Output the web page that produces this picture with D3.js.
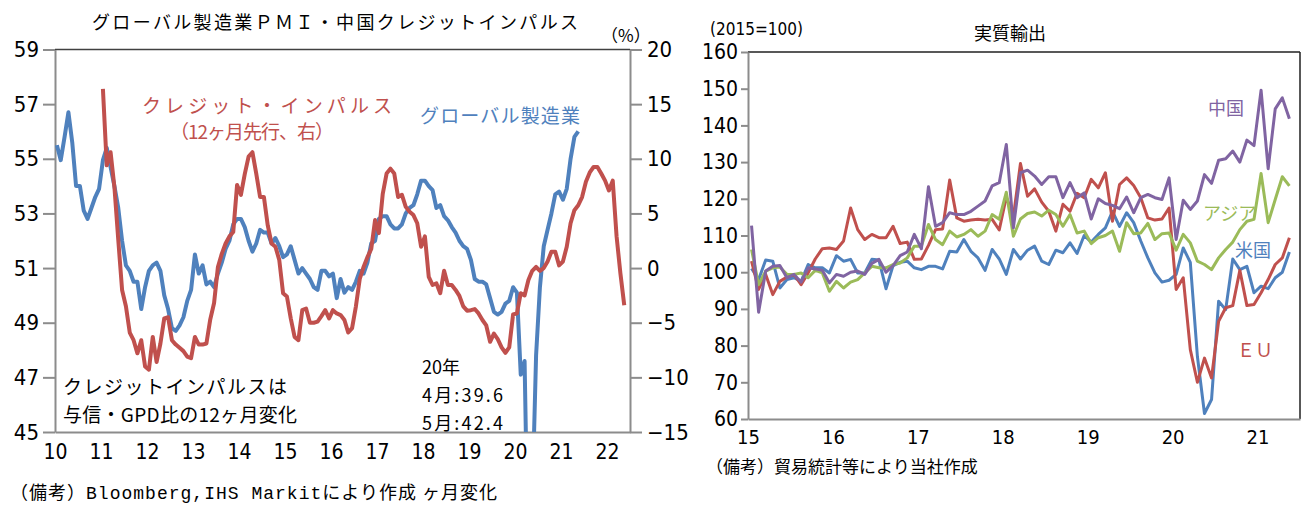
<!DOCTYPE html>
<html><head><meta charset="utf-8">
<script src="https://cdn.jsdelivr.net/npm/d3@7"></script>
<style>
body{margin:0;background:#fff;}
svg{display:block;}
</style></head><body>
<svg id="c" width="1314" height="510"></svg>
<script>
// ---------- Left chart data (monthly) ----------
const pmiStart = 2010; // Jan 2010
const pmiValues = [
55.5,54.95,55.8,56.7,55.6,54.0,54.0,53.1,52.8,53.2,
53.6,53.9,54.95,55.4,54.7,54.0,53.2,52.0,51.1,50.9,
50.5,50.5,49.5,50.3,50.9,51.1,51.2,50.9,50.0,49.5,
48.8,48.7,48.9,49.2,49.8,50.2,51.5,50.8,51.1,50.4,
50.5,50.3,50.8,51.2,51.7,52.0,52.6,52.8,52.8,52.5,
52.0,51.6,51.9,52.4,52.3,52.3,51.9,52.1,51.8,51.4,
51.5,51.8,51.3,50.8,51.0,50.8,50.6,50.3,50.2,50.9,
50.9,50.7,50.8,49.9,50.6,50.1,50.3,50.2,50.5,50.9,
50.8,51.2,51.9,52.0,52.8,52.9,52.9,52.6,52.45,52.45,
52.6,53.0,53.2,53.3,53.7,54.2,54.2,54.0,53.85,53.2,
53.3,52.9,52.75,52.5,52.3,52.0,51.8,51.7,51.3,50.6,
50.5,50.5,50.4,49.9,49.4,49.3,49.4,49.7,49.8,50.3,
50.1,47.1,47.6,39.6,42.4,47.8,50.3,51.8,52.4,53.0,
53.7,53.8,53.5,53.9,55.0,55.8,56.0];
const ciStart = 2011; // Jan 2011 (12 months lead)
const ciValues = [
16.4,9.4,10.6,7.4,2.6,-2.0,-3.5,-5.9,-6.6,-7.8,
-6.6,-9.0,-9.3,-6.3,-8.6,-6.9,-4.6,-4.5,-6.6,-7.0,
-7.3,-7.6,-8.1,-8.25,-6.3,-7.0,-7.0,-6.9,-4.7,-3.2,
0.1,1.3,2.25,2.9,3.3,7.6,6.7,8.6,10.2,10.6,
8.65,6.5,6.5,3.9,2.25,1.95,0.75,-2.3,-2.6,-4.6,
-6.3,-6.6,-3.85,-3.7,-5.0,-5.0,-4.9,-4.4,-3.85,-4.6,
-3.85,-4.15,-4.3,-4.75,-5.9,
-5.5,-3.5,-1.0,0.1,1.0,1.75,4.4,3.2,6.8,8.65,
9.1,8.65,6.5,6.7,5.6,5.15,4.85,4.1,1.95,2.9,
-0.8,-1.55,-1.4,-2.3,-0.25,-1.55,-1.55,-2.0,-2.55,-3.5,
-3.9,-3.85,-3.75,-4.15,-4.75,-5.25,-6.75,-6.0,-6.5,-7.25,
-7.75,-7.25,-4.25,-4.15,-2.3,-2.5,-1.1,-0.25,0.1,-0.25,
0,0.6,1.5,1.5,0.25,0.6,1.95,4.1,5.3,5.75,
6.5,7.9,8.75,9.25,9.25,8.65,8.0,7.1,8.0,2.9,
-0.5,-3.4];
const leftYearTicks = [2010,2011,2012,2013,2014,2015,2016,2017,2018,2019,2020,2021,2022];
const pmiTicks = [45,47,49,51,53,55,57,59];
const ciTicks = [-15,-10,-5,0,5,10,15,20];

// ---------- Right chart data (monthly, 2015=100) ----------
const expStart = 2015; // Jan 2015
const expUS = [
101,98,103.3,103,95.7,98,98.5,97.5,102.1,101.2,
101.2,99.8,104.5,103,103.5,99.8,99.8,103.5,103.3,95.5,
101.8,102.7,103,101.2,100.7,101.6,101.6,100.9,105.7,105.5,
108.9,105.7,103.9,100.5,106.2,103.6,99.4,106.2,103.6,106,
107.1,103,102.1,106,105.3,108,105.1,110,108.2,110.3,
112.1,116.6,112.5,116.2,113.5,108.5,103.9,99.8,97.3,97.8,
99.4,106.6,102.7,77.1,61.5,65.3,92.1,89.8,103.6,100.7,
101.6,94.4,96.2,95.5,98.5,100,105.5];
const expEU = [
103,95.3,99.4,93.9,97.5,98.7,99.4,96.6,99.8,103.6,
106.4,106.6,106.2,108.5,117.5,111.6,108.9,110.3,109.4,109.4,
112.5,107.8,108.2,103.5,103.6,107.3,111.6,111.8,125.1,114.8,
113.9,114.2,114.4,114.2,114.4,111.5,120.5,115.1,129.6,120.7,
122.7,119.1,116.6,111.2,118.5,116.6,121.5,120.3,125.3,123,
127.1,113.9,123.9,125.7,123.6,120.3,114.8,114.2,114.5,117.5,
95.3,98.5,78.9,70,76.6,71.2,86.6,90.3,90.9,100.5,
90.9,91.2,94.4,98,102.1,103.9,109.4];
const expAsia = [
106.2,96.6,100.3,101.2,101.4,99.4,99.4,99.8,98.5,100.5,
99.8,94.8,97.5,95.7,97.3,98,99.8,101.6,101.2,101.2,
102.1,102.5,103.9,107.1,107.1,113,108.9,107.5,111.2,109.6,
110.3,111.6,109.8,111.2,115.7,114.4,121.8,109.8,114.5,116,
116.4,115.3,116.9,115.7,112.5,115.7,110.7,111.2,107.8,109.4,
110,111.2,105.7,113.5,110.5,110.7,113.3,108.9,110.5,110.7,
106,110.3,108,103,102.1,100.7,103.9,106.2,108.2,111.6,
113.9,114.4,126.9,113.5,119.8,126,123.5];
const expChina = [
112.7,89.1,100.3,101.6,101.8,98.5,99.4,97.3,101.2,100.9,
100.5,97.1,99.4,98.9,100,100.3,99.4,102.4,103.5,100,
101.8,104.5,105.5,110.3,106.4,123.3,112.5,113.5,116.2,115.7,
115.7,116.6,118,119.4,123.5,124.4,134.8,112.1,127.1,127.8,
126.2,123.9,126,126,120.3,124.4,120.3,121.6,114.5,120,
118.7,118.2,117.3,120.5,116.2,120.3,121.2,120.3,119.8,125.7,
108.9,119.6,117.1,119.4,126.6,124.2,130.5,130.9,133,130,
136,134.5,149.6,128.2,144.5,147.5,141.8];
const expTicks = [60,70,80,90,100,110,120,130,140,150,160];
const expYearTicks = [2015,2016,2017,2018,2019,2020,2021];

// ---------- Styles ----------
const C_BLUE = "#4f81bd", C_RED = "#c0504d", C_GREEN = "#9bbb59", C_PURPLE = "#8064a2";
const F_NUM = "'Liberation Sans Narrow', 'DejaVu Sans Condensed', 'Liberation Sans', sans-serif";
const F_JP = "'Noto Sans CJK JP', 'Noto Sans', sans-serif";
const F_MONO = "'Liberation Mono', 'DejaVu Sans Mono', monospace";
const AX = "#8c8c8c";

const svg = d3.select("#c");
const monthX = (start, i) => start + (i + 0.5) / 12;

function styleAxis(g, size) {
  g.selectAll(".domain").attr("stroke", AX).attr("stroke-width", 2);
  g.selectAll(".tick line").attr("stroke", AX).attr("stroke-width", 2);
  g.selectAll(".tick text").attr("fill", "#000").style("font-family", F_NUM).style("font-size", size + "px");
}

// ================= LEFT CHART =================
const xL = d3.scaleLinear().domain([2010, 2022.5]).range([55, 630]);
const yL = d3.scaleLinear().domain([45, 59]).range([432, 49.5]);
const yR = d3.scaleLinear().domain([-15, 20]).range([432, 49.5]);

svg.append("defs").append("clipPath").attr("id", "clipL")
  .append("rect").attr("x", xL.range()[0]).attr("y", yL.range()[1])
  .attr("width", xL.range()[1] - xL.range()[0]).attr("height", yL.range()[0] - yL.range()[1]);

svg.append("line").attr("x1", xL.range()[0]).attr("x2", xL.range()[1])
  .attr("y1", yL(59)).attr("y2", yL(59)).attr("stroke", "#404040").attr("stroke-width", 1.5);

const gLA = svg.append("g").attr("transform", `translate(${xL.range()[0]},0)`)
  .call(d3.axisLeft(yL).tickValues(pmiTicks).tickSize(12).tickSizeOuter(0).tickPadding(4));
styleAxis(gLA, 22);
const gRA = svg.append("g").attr("transform", `translate(${xL.range()[1]},0)`)
  .call(d3.axisRight(yR).tickValues(ciTicks).tickSize(12).tickSizeOuter(0).tickPadding(5));
styleAxis(gRA, 22);
const gBA = svg.append("g").attr("transform", `translate(0,${yL.range()[0]})`)
  .call(d3.axisBottom(xL).tickValues(leftYearTicks).tickSize(0).tickSizeOuter(0).tickPadding(12)
    .tickFormat(d => String(d).slice(2)));
styleAxis(gBA, 21);

const plotL = svg.append("g").attr("clip-path", "url(#clipL)");
plotL.append("path").datum(pmiValues)
  .attr("d", d3.line().x((d, i) => xL(monthX(pmiStart, i))).y(d => yL(d)))
  .attr("fill", "none").attr("stroke", C_BLUE).attr("stroke-width", 4).attr("stroke-linejoin", "round");
plotL.append("path").datum(ciValues)
  .attr("d", d3.line().x((d, i) => xL(monthX(ciStart, i))).y(d => yR(d)))
  .attr("fill", "none").attr("stroke", C_RED).attr("stroke-width", 4).attr("stroke-linejoin", "round");

function txt(x, y, s, opt) {
  const t = svg.append("text").attr("x", x).attr("y", y).text(s)
    .style("font-family", opt.font || F_JP).style("font-size", (opt.size || 17) + "px")
    .attr("fill", opt.fill || "#000").attr("text-anchor", opt.anchor || "start");
  if (opt.len) t.attr("textLength", opt.len).attr("lengthAdjust", opt.adj || "spacing");
  return t;
}

txt(92, 29, "グローバル製造業ＰＭＩ・中国クレジットインパルス", {size: 18, len: 486});
txt(601, 42, "（%）", {size: 17});
txt(142, 113, "クレジット・インパルス", {size: 19, fill: C_RED, len: 250});
txt(170, 139, "（12ヶ月先行、右）", {size: 19, fill: C_RED, len: 164});
txt(420, 123, "グローバル製造業", {size: 19, fill: C_BLUE, len: 160});
txt(63, 394, "クレジットインパルスは", {size: 19, len: 224});
txt(63, 422, "与信・GPD比の12ヶ月変化", {size: 19, len: 234});
txt(422, 374, "20年", {size: 18});
txt(422, 402, "4月:39.6", {size: 18, len: 81});
txt(422, 430, "5月:42.4", {size: 18, len: 81});

const foot = svg.append("text").attr("x", 10).attr("y", 499)
  .style("font-family", F_JP).style("font-size", "18px").attr("fill", "#000")
  .attr("textLength", 487).attr("lengthAdjust", "spacing");
foot.append("tspan").text("（備考）");
foot.append("tspan").style("font-family", F_MONO).text("Bloomberg,IHS Markit");
foot.append("tspan").text("により作成 ヶ月変化");

// ================= RIGHT CHART =================
const xE = d3.scaleLinear().domain([2015, 2021.5]).range([748, 1300]);
const yE = d3.scaleLinear().domain([60, 160]).range([419, 52]);

svg.append("line").attr("x1", xE.range()[0]).attr("x2", xE.range()[1])
  .attr("y1", yE(160)).attr("y2", yE(160)).attr("stroke", "#202020").attr("stroke-width", 1.5);
svg.append("line").attr("x1", xE.range()[1]).attr("x2", xE.range()[1])
  .attr("y1", yE(160)).attr("y2", yE(60)).attr("stroke", "#202020").attr("stroke-width", 1.5);

const gEA = svg.append("g").attr("transform", `translate(${xE.range()[0]},0)`)
  .call(d3.axisLeft(yE).tickValues(expTicks).tickSize(7).tickSizeOuter(0).tickPadding(3));
styleAxis(gEA, 21);
const gEB = svg.append("g").attr("transform", `translate(0,${yE.range()[0]})`)
  .call(d3.axisBottom(xE).tickValues(expYearTicks).tickSize(0).tickSizeOuter(0).tickPadding(11)
    .tickFormat(d => String(d).slice(2)));
styleAxis(gEB, 20);

const lineE = d3.line().x((d, i) => xE(monthX(expStart, i))).y(d => yE(d));
[[expUS, C_BLUE], [expEU, C_RED], [expAsia, C_GREEN], [expChina, C_PURPLE]].forEach(([arr, col]) => {
  svg.append("path").datum(arr).attr("d", lineE)
    .attr("fill", "none").attr("stroke", col).attr("stroke-width", 3).attr("stroke-linejoin", "round");
});

txt(1010, 40, "実質輸出", {size: 18, anchor: "middle"});
txt(710, 35, "(2015=100)", {size: 17, font: F_NUM});
txt(1208, 115, "中国", {size: 18, fill: C_PURPLE});
txt(1203, 220, "アジア", {size: 18, fill: C_GREEN});
txt(1235, 257, "米国", {size: 18, fill: C_BLUE});
txt(1237, 357, "ＥＵ", {size: 18, fill: C_RED});
txt(706, 473, "（備考）貿易統計等により当社作成", {size: 17});
</script>
</body></html>
